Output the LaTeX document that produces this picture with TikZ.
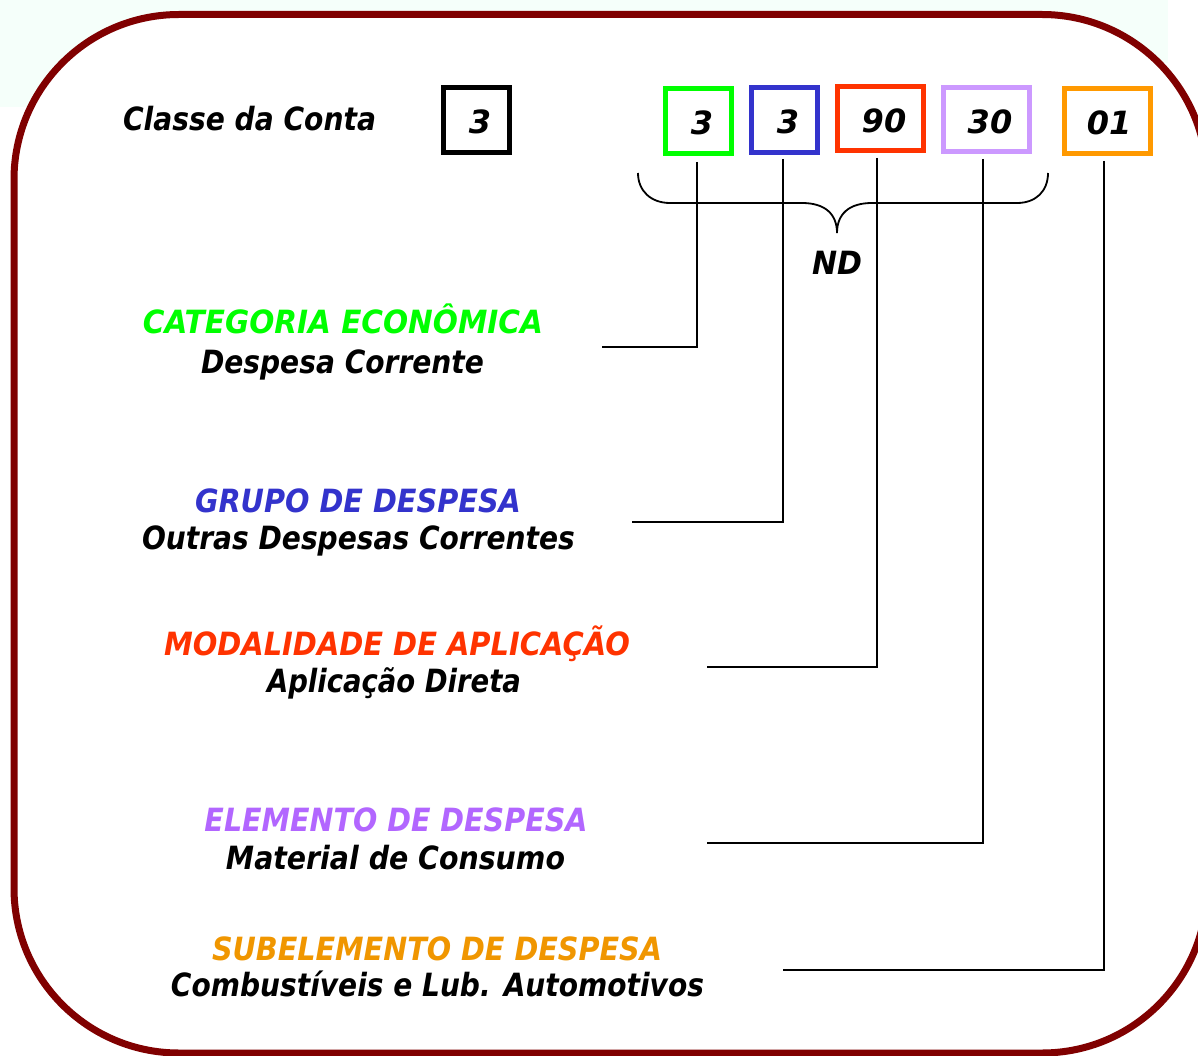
\documentclass[tikz,border=0pt]{standalone}
\usepackage{fontspec}
\setmainfont{DejaVu Sans}
\usepackage{graphicx}
\definecolor{framered}{RGB}{128,0,0}
\definecolor{mint}{RGB}{245,255,250}
\definecolor{cgreen}{RGB}{0,255,0}
\definecolor{cblue}{RGB}{51,51,204}
\definecolor{cred}{RGB}{255,51,0}
\definecolor{clav}{RGB}{204,153,255}
\definecolor{cpurp}{RGB}{178,102,255}
\definecolor{corange}{RGB}{255,153,0}
\definecolor{corangetext}{RGB}{240,150,0}
\newcommand{\fitw}[2]{\resizebox{#1pt}{\height}{#2}}
\newcommand{\dg}[1]{\kern7pt#1}
\begin{document}
\begin{tikzpicture}[x=1pt,y=-1pt,
  lbl/.style={font=\fontsize{32}{38}\selectfont\bfseries\itshape, inner sep=0pt, anchor=base},
  codebox/.style={line width=5pt, inner sep=0pt, text height=28pt, text depth=0pt,
    font=\fontsize{32}{38}\selectfont\bfseries\itshape},
  conn/.style={line width=1.8pt, draw=black}]
\useasboundingbox (0,0) rectangle (1198,1056);
\clip (0,0) rectangle (1198,1056);
\fill[white] (0,0) rectangle (1198,1056);
\fill[mint] (0,0) rectangle (1168,63);
\fill[mint] (0,0) rectangle (600,107);
\draw[framered, line width=7pt, fill=white, rounded corners=165pt] (14,14.5) rectangle (1207,1053);

% labels
\node[lbl] (classe) at (249.5,131) {\fitw{253}{Classe da Conta}};
\node[lbl, text=cgreen] (catT) at (343,333) {\fitw{400}{CATEGORIA ECONÔMICA}};
\node[lbl] (catS) at (342.5,373.5) {\fitw{283}{Despesa Corrente}};
\node[lbl, text=cblue] (grpT) at (358,512) {\fitw{326}{GRUPO DE DESPESA}};
\node[lbl] (grpS) at (358.5,549.5) {\fitw{433}{Outras Despesas Correntes}};
\node[lbl, text=cred] (modT) at (397,655) {\fitw{466}{MODALIDADE DE APLICAÇÃO}};
\node[lbl] (modS) at (394,692) {\fitw{254}{Aplicação Direta}};
\node[lbl, text=cpurp] (eleT) at (396,831.5) {\fitw{383}{ELEMENTO DE DESPESA}};
\node[lbl] (eleS) at (395.5,869.5) {\fitw{339}{Material de Consumo}};
\node[lbl, text=corangetext] (subT) at (437,960) {\fitw{450}{SUBELEMENTO DE DESPESA}};
\node[lbl] (subS) at (437.5,996) {\fitw{533}{Combustíveis e Lub. Automotivos}};
\node[lbl] (nd) at (837,275) {\fitw{50}{ND}};

% code boxes
\node[codebox, draw=black, minimum width=66pt, minimum height=65pt] (b0) at (476.5,120) {\dg{3}};
\node[codebox, draw=cgreen, minimum width=66pt, minimum height=65pt] (bg) at (698.5,121) {\dg{3}};
\node[codebox, draw=cblue, minimum width=66pt, minimum height=65pt] (bb) at (784.5,120) {\dg{3}};
\node[codebox, draw=cred, minimum width=86pt, minimum height=64pt] (br) at (880.5,118.5) {\dg{90}};
\node[codebox, draw=clav, minimum width=86pt, minimum height=64pt] (bl) at (986.5,119.5) {\dg{30}};
\node[codebox, draw=corange, minimum width=86pt, minimum height=65pt] (bo) at (1107.5,121) {\kern3pt 01};

% brace
\coordinate (brL) at (638,173);
\coordinate (brT) at (837,233);
\coordinate (brR) at (1048,173);
\draw[conn] (brL) .. controls (638,191) and (651,203) .. (670,203) -- (802,203)
  .. controls (825,203) and (837,214) .. (brT)
  .. controls (837,214) and (849,203) .. (872,203) -- (1017,203)
  .. controls (1036,203) and (1048,191) .. (brR);

% connectors
\coordinate (g0) at (697,162);  \coordinate (g1) at (602,347);
\coordinate (u0) at (783,159);  \coordinate (u1) at (632,522);
\coordinate (r0) at (877,158);  \coordinate (r1) at (707,667);
\coordinate (l0) at (983,159);  \coordinate (l1) at (707,843);
\coordinate (o0) at (1104,161); \coordinate (o1) at (783,970);
\draw[conn] (g0) |- (g1);
\draw[conn] (u0) |- (u1);
\draw[conn] (r0) |- (r1);
\draw[conn] (l0) |- (l1);
\draw[conn] (o0) |- (o1);
\end{tikzpicture}
\end{document}
